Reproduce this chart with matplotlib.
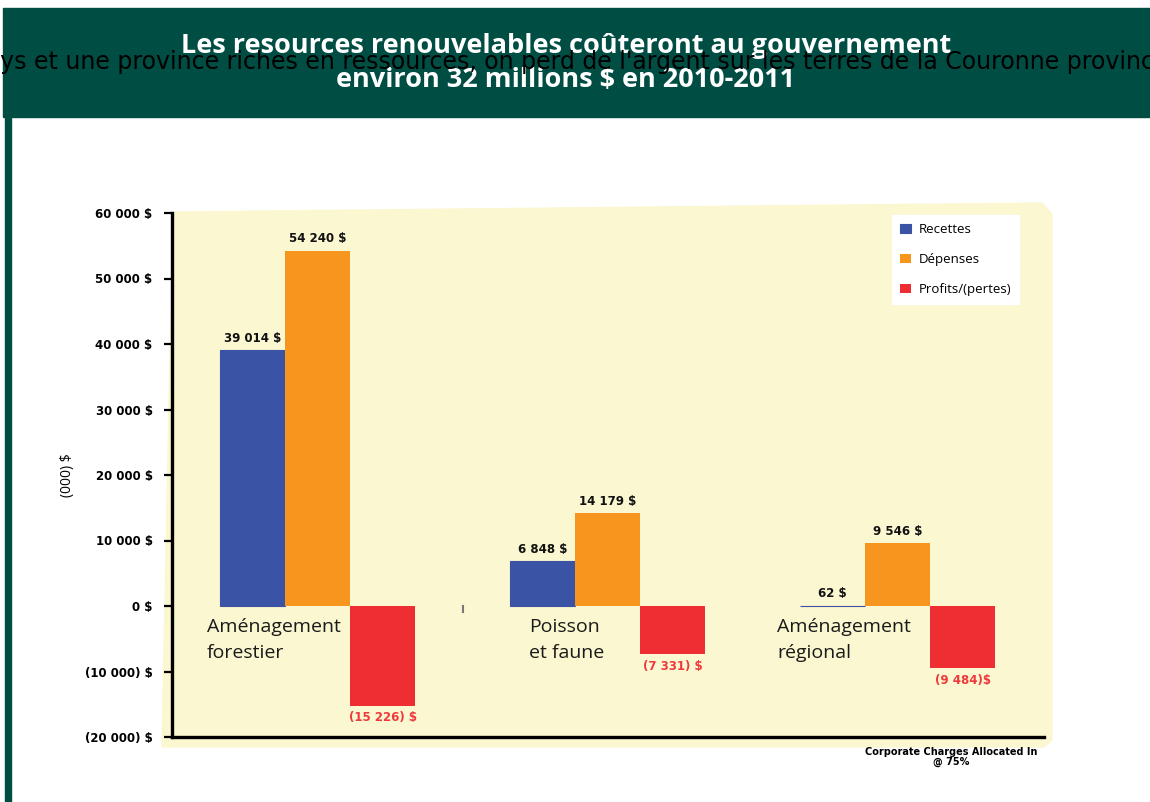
import numpy as np
import matplotlib
matplotlib.use("Agg")
import matplotlib.pyplot as plt
from matplotlib.patches import Polygon, Rectangle

# données (milliers de $)
categories = ["Aménagement\nforestier", "Poisson\net faune", "Aménagement\nrégional"]
series = ["Recettes", "Dépenses", "Profits/(pertes)"]
recettes = [39014, 6848, 62]
depenses = [54240, 14179, 9546]
profits = [-15226, -7331, -9484]
bar_labels = [
    ["39 014 $", "6 848 $", "62 $"],
    ["54 240 $", "14 179 $", "9 546 $"],
    ["(15 226) $", "(7 331) $", "(9 484)$"],
]
yticks = [-20000, -10000, 0, 10000, 20000, 30000, 40000, 50000, 60000]
ytick_labels = ["(20 000) $", "(10 000) $", "0 $", "10 000 $", "20 000 $",
                "30 000 $", "40 000 $", "50 000 $", "60 000 $"]

title = "Les resources renouvelables coûteront au gouvernement\nenviron 32 millions $ en 2010-2011"
overlay = ("Un pays et une province riches en ressources, on perd de l'argent "
           "sur les terres de la Couronne provinciales")
footnote = "Corporate Charges Allocated In\n@ 75%"

BLUE = "#3a53a4"
ORANGE = "#f7961f"
RED = "#ee2e33"
NEG_TXT = "#ee3a3f"
YELLOW = "#fbf7d0"
GREEN = "#004d43"

W, H = 1150, 802
fig = plt.figure(figsize=(W / 100, H / 100), dpi=100)
fig.patch.set_facecolor("white")


def fx(px):
    return px / W


def fy(py):
    return 1 - py / H


# bandeau du titre et filet gauche
fig.patches.append(Rectangle((fx(3), fy(117)), fx(1150 - 3), 109 / H,
                             transform=fig.transFigure, color=GREEN, zorder=-1))
fig.patches.append(Rectangle((fx(5), 0), fx(6), fy(117),
                             transform=fig.transFigure, color=GREEN, zorder=-1))

# fond jaune du graphique
bg = [(173, 212), (1042, 203), (1052, 214), (1052, 740), (1044, 747), (162, 747)]
fig.patches.append(Polygon([(fx(x), fy(y)) for x, y in bg], closed=True,
                           transform=fig.transFigure, color=YELLOW, zorder=-1))

ax = fig.add_axes([fx(172), fy(737), fx(1044 - 172), (737 - 213) / H])
ax.set_facecolor("none")
ax.set_zorder(1)

x = np.arange(len(categories))
w = 0.224
values = [recettes, depenses, profits]
colors = [BLUE, ORANGE, RED]
bars = []
for i, (vals, col, name) in enumerate(zip(values, colors, series)):
    # trait fin sur les barres bleues pour que la barre de 62 $ reste visible
    b = ax.bar(x + (i - 1) * w, vals, w, color=col, edgecolor=col,
               linewidth=0.8 if i == 0 else 0, label=name, zorder=2)
    bars.append(b)
    for rect, v, lab in zip(b, vals, bar_labels[i]):
        cx = rect.get_x() + rect.get_width() / 2
        if v >= 0:
            ax.annotate(lab, (cx, v), xytext=(0, 4), textcoords="offset points",
                        ha="center", va="bottom", fontsize=8.5, fontweight="bold",
                        color="#111111")
        else:
            ax.annotate(lab, (cx, v), xytext=(0, -4), textcoords="offset points",
                        ha="center", va="top", fontsize=8.5, fontweight="bold",
                        color=NEG_TXT)

# noms des catégories
label_dx = [-0.381, -0.271, -0.416]
for xi, dx, cat in zip(x, label_dx, categories):
    ax.text(xi + dx, -1900, cat, ha="left", va="top", fontsize=14,
            family=["Open Sans", "DejaVu Sans"], color="#1a1a1a",
            linespacing=1.55, zorder=3)

ax.plot([0.5, 0.5], [0, -900], color="#777777", lw=1.5, zorder=1)

ax.set_xlim(-0.502, 2.505)
ax.set_ylim(-20000, 60000)
ax.set_yticks(yticks)
ax.set_yticklabels(ytick_labels, fontsize=8.5, fontweight="bold")
ax.set_xticks([])
ax.tick_params(axis="y", length=6, width=1.6, pad=8, direction="out")
for s in ["top", "right"]:
    ax.spines[s].set_visible(False)
ax.spines["left"].set_linewidth(2.4)
ax.spines["bottom"].set_linewidth(2.4)

leg = ax.legend(handles=bars, loc="upper left",
                bbox_to_anchor=(fx(892), fy(215)), bbox_transform=fig.transFigure,
                fontsize=9.5, frameon=True, fancybox=False, framealpha=1,
                edgecolor="white", facecolor="white", handlelength=0.85,
                handleheight=0.7, handletextpad=0.55, labelspacing=1.3,
                borderpad=0.6, borderaxespad=0)
for t in leg.get_texts():
    t.set_family(["Open Sans", "DejaVu Sans"])

fig.text(fx(67), fy(475), "(000) $", rotation=90, ha="center", va="center",
         fontsize=10, family=["Open Sans", "DejaVu Sans"])

fig.text(fx(951), fy(757), footnote, ha="center", va="center", fontsize=7,
         fontweight="bold", linespacing=1.0)

fig.text(fx(566), fy(63), title, ha="center", va="center", fontsize=19.5,
         fontweight="bold", color="white", family=["Open Sans", "DejaVu Sans"],
         linespacing=1.4, zorder=5)

# phrase qui déborde du bandeau : taille calculée pour la largeur de la figure
renderer = fig.canvas.get_renderer()
ofam = ["Liberation Sans Narrow", "DejaVu Sans"]
probe = fig.text(0, 0, overlay[5:-5], fontsize=10, family=ofam)
vis_w = probe.get_window_extent(renderer).width
probe.remove()
ofs = 10 * W / vis_w
probe = fig.text(0, 0, overlay[:5], fontsize=ofs, family=ofam)
pre_w = probe.get_window_extent(renderer).width
probe.remove()
fig.text(fx(-pre_w), fy(62), overlay, ha="left", va="center", fontsize=ofs,
         family=ofam, color="black", zorder=6)

fig.savefig("out.png", dpi=100)
